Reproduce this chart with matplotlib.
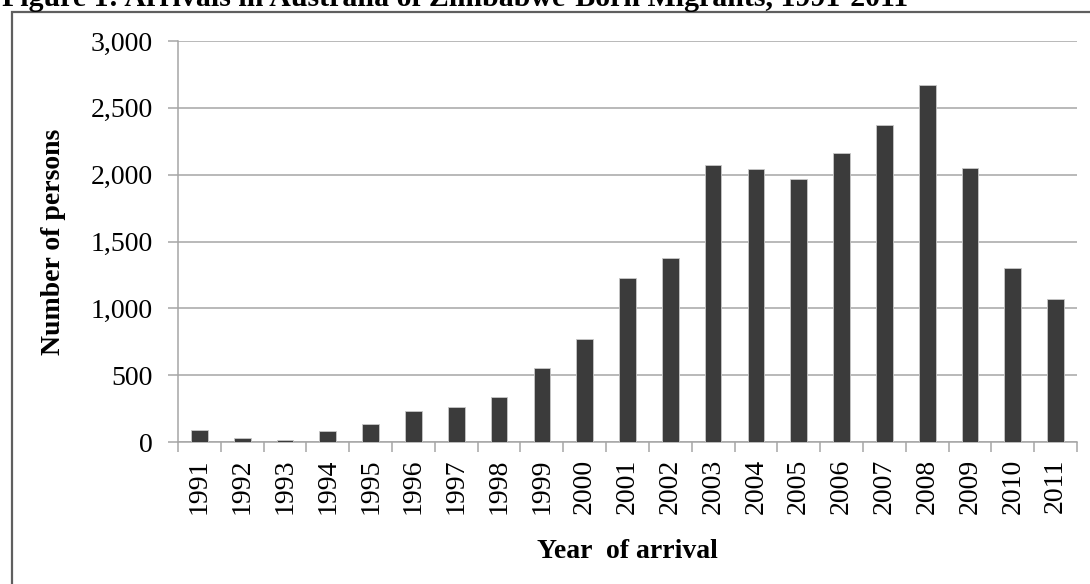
import numpy as np
import matplotlib
matplotlib.use('Agg')
import matplotlib.pyplot as plt
from matplotlib.patches import Rectangle

plt.rcParams['font.family'] = ['Liberation Serif', 'DejaVu Serif']

years = [str(y) for y in range(1991, 2012)]
persons = [93, 33, 13, 80, 138, 235, 263, 340, 553, 773, 1225,
           1380, 2070, 2043, 1965, 2160, 2373, 2668, 2053, 1300, 1070]
y_ticks = [0, 500, 1000, 1500, 2000, 2500, 3000]

W, H = 1090, 584
fig = plt.figure(figsize=(W / 100, H / 100), dpi=100)
ax = fig.add_axes([178 / W, 1 - 442 / H, (1077 - 178) / W, (442 - 41) / H])

x = np.arange(len(years))
ax.bar(x, persons, width=0.39, color='#3b3b3b', edgecolor='#c8c8c8',
       linewidth=0.6, zorder=3)

ax.set_xlim(-0.5, len(years) - 0.5)
ax.set_ylim(0, 3000)
ax.set_yticks(y_ticks)
ax.set_yticklabels([f'{v:,}' for v in y_ticks], fontsize=20)
ax.set_xticks(x)
ax.set_xticklabels(years, rotation=90, fontsize=20)
ax.set_xticks(np.arange(-0.5, len(years)), minor=True)

grey = '#a6a6a6'
ax.yaxis.grid(True, color=grey, linewidth=1.1, zorder=0)
for s in ['top', 'right']:
    ax.spines[s].set_visible(False)
for s in ['left', 'bottom']:
    ax.spines[s].set_color(grey)
    ax.spines[s].set_linewidth(1.1)
ax.tick_params(axis='y', length=7, width=1.1, color=grey, pad=11)
ax.tick_params(axis='x', which='major', length=0, pad=12)
ax.tick_params(axis='x', which='minor', length=7, width=1.1, color=grey)

ax.set_ylabel('Number of persons', fontsize=20, fontweight='bold', labelpad=18)
ax.set_xlabel('Year  of arrival', fontsize=20, fontweight='bold', labelpad=18)

# outer frame of the figure box (cut off at the right and bottom)
fig.patches.append(Rectangle((12 / W, -0.05), 1.1, 1 - 12 / H + 0.05,
                             transform=fig.transFigure, fill=False,
                             edgecolor='#5f5f5f', linewidth=1.6))

fig.text(2 / W, 1 - 6 / H, 'Figure 1: Arrivals in Australia of Zimbabwe-Born Migrants, 1991-2011',
         fontsize=21.5, fontweight='bold', ha='left', va='baseline')

fig.savefig('out.png', dpi=100)
